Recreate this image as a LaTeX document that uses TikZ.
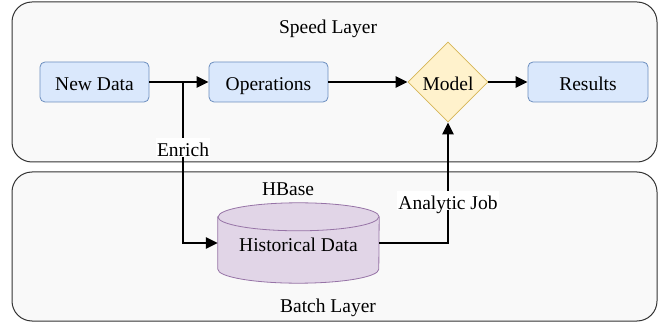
\documentclass[tikz,border=0pt]{standalone}
\usepackage{fontspec}
\setmainfont{Liberation Serif}
\usetikzlibrary{arrows.meta,shapes.geometric}
\definecolor{laneFill}{HTML}{F9F9F9}
\definecolor{laneLine}{HTML}{333333}
\definecolor{blueFill}{HTML}{DAE8FC}
\definecolor{blueLine}{HTML}{6C8EBF}
\definecolor{yelFill}{HTML}{FFF2CC}
\definecolor{yelLine}{HTML}{D6B656}
\definecolor{purFill}{HTML}{E1D5E7}
\definecolor{purLine}{HTML}{9673A6}
\tikzset{
  lane/.style={draw=laneLine, fill=laneFill, line width=1pt, rounded corners=20pt},
  procbox/.style={draw=blueLine, fill=blueFill, line width=0.8pt, rounded corners=5pt,
    minimum width=109pt, minimum height=40pt, inner sep=0pt},
  decision/.style={diamond, aspect=1, draw=yelLine, fill=yelFill, line width=0.8pt,
    minimum width=80pt, minimum height=80pt, inner sep=0pt},
  flow/.style={line width=2pt, -{Triangle[length=12pt,width=12pt,angle'=50]}},
  tag/.style={fill=white, inner sep=1pt},
  txt/.style={font=\fontsize{19.5}{22}\selectfont, text height=17pt, text depth=0pt}
}
\begin{document}
\begin{tikzpicture}[x=1pt,y=-1pt,every node/.style={txt}]
\useasboundingbox (0,0) rectangle (661,323);

% layers
\draw[lane] (12,2) rectangle (657,162);
\draw[lane] (12,172) rectangle (657,321);
\node (speed) at (328,25.5) {Speed Layer};
\node (batch) at (328,304) {Batch Layer};

% speed layer steps
\node[procbox] (nd) at (94.5,82) {New Data};
\node[procbox, minimum width=119pt] (ops) at (268.5,82) {Operations};
\node[decision] (model) at (448,82) {Model};
\node[procbox, minimum width=120pt] (res) at (588,82) {Results};

% historical store (cylinder)
\node[minimum width=161pt, minimum height=80pt, inner sep=0pt] (hist) at (298.5,243) {};
\draw[draw=purLine, fill=purFill, line width=0.8pt]
  ([yshift=-14pt]hist.north west) -- ([yshift=14pt]hist.south west)
  arc[start angle=180, end angle=360, x radius=80.5pt, y radius=14pt]
  -- ([yshift=-14pt]hist.north east)
  arc[start angle=0, end angle=180, x radius=80.5pt, y radius=14pt] -- cycle;
\draw[draw=purLine, line width=0.8pt]
  ([yshift=-14pt]hist.north west)
  arc[start angle=180, end angle=360, x radius=80.5pt, y radius=14pt];
\node (histtext) at (hist.center) {Historical Data};
\node (hbase) at (288,187) {HBase};

% connectors
\draw[flow] (nd.east) -- (ops.west);
\draw[flow] (ops.east) -- (model.west);
\draw[flow] (model.east) -- (res.west);
\coordinate (split) at (183,82);
\draw[flow] (split) |- (hist.west);
\draw[flow] (hist.east) -| (model.south);

% connector labels
\node[tag] (enrich) at (183,148) {Enrich};
\node[tag] (job) at (448,201) {Analytic Job};
\end{tikzpicture}
\end{document}
